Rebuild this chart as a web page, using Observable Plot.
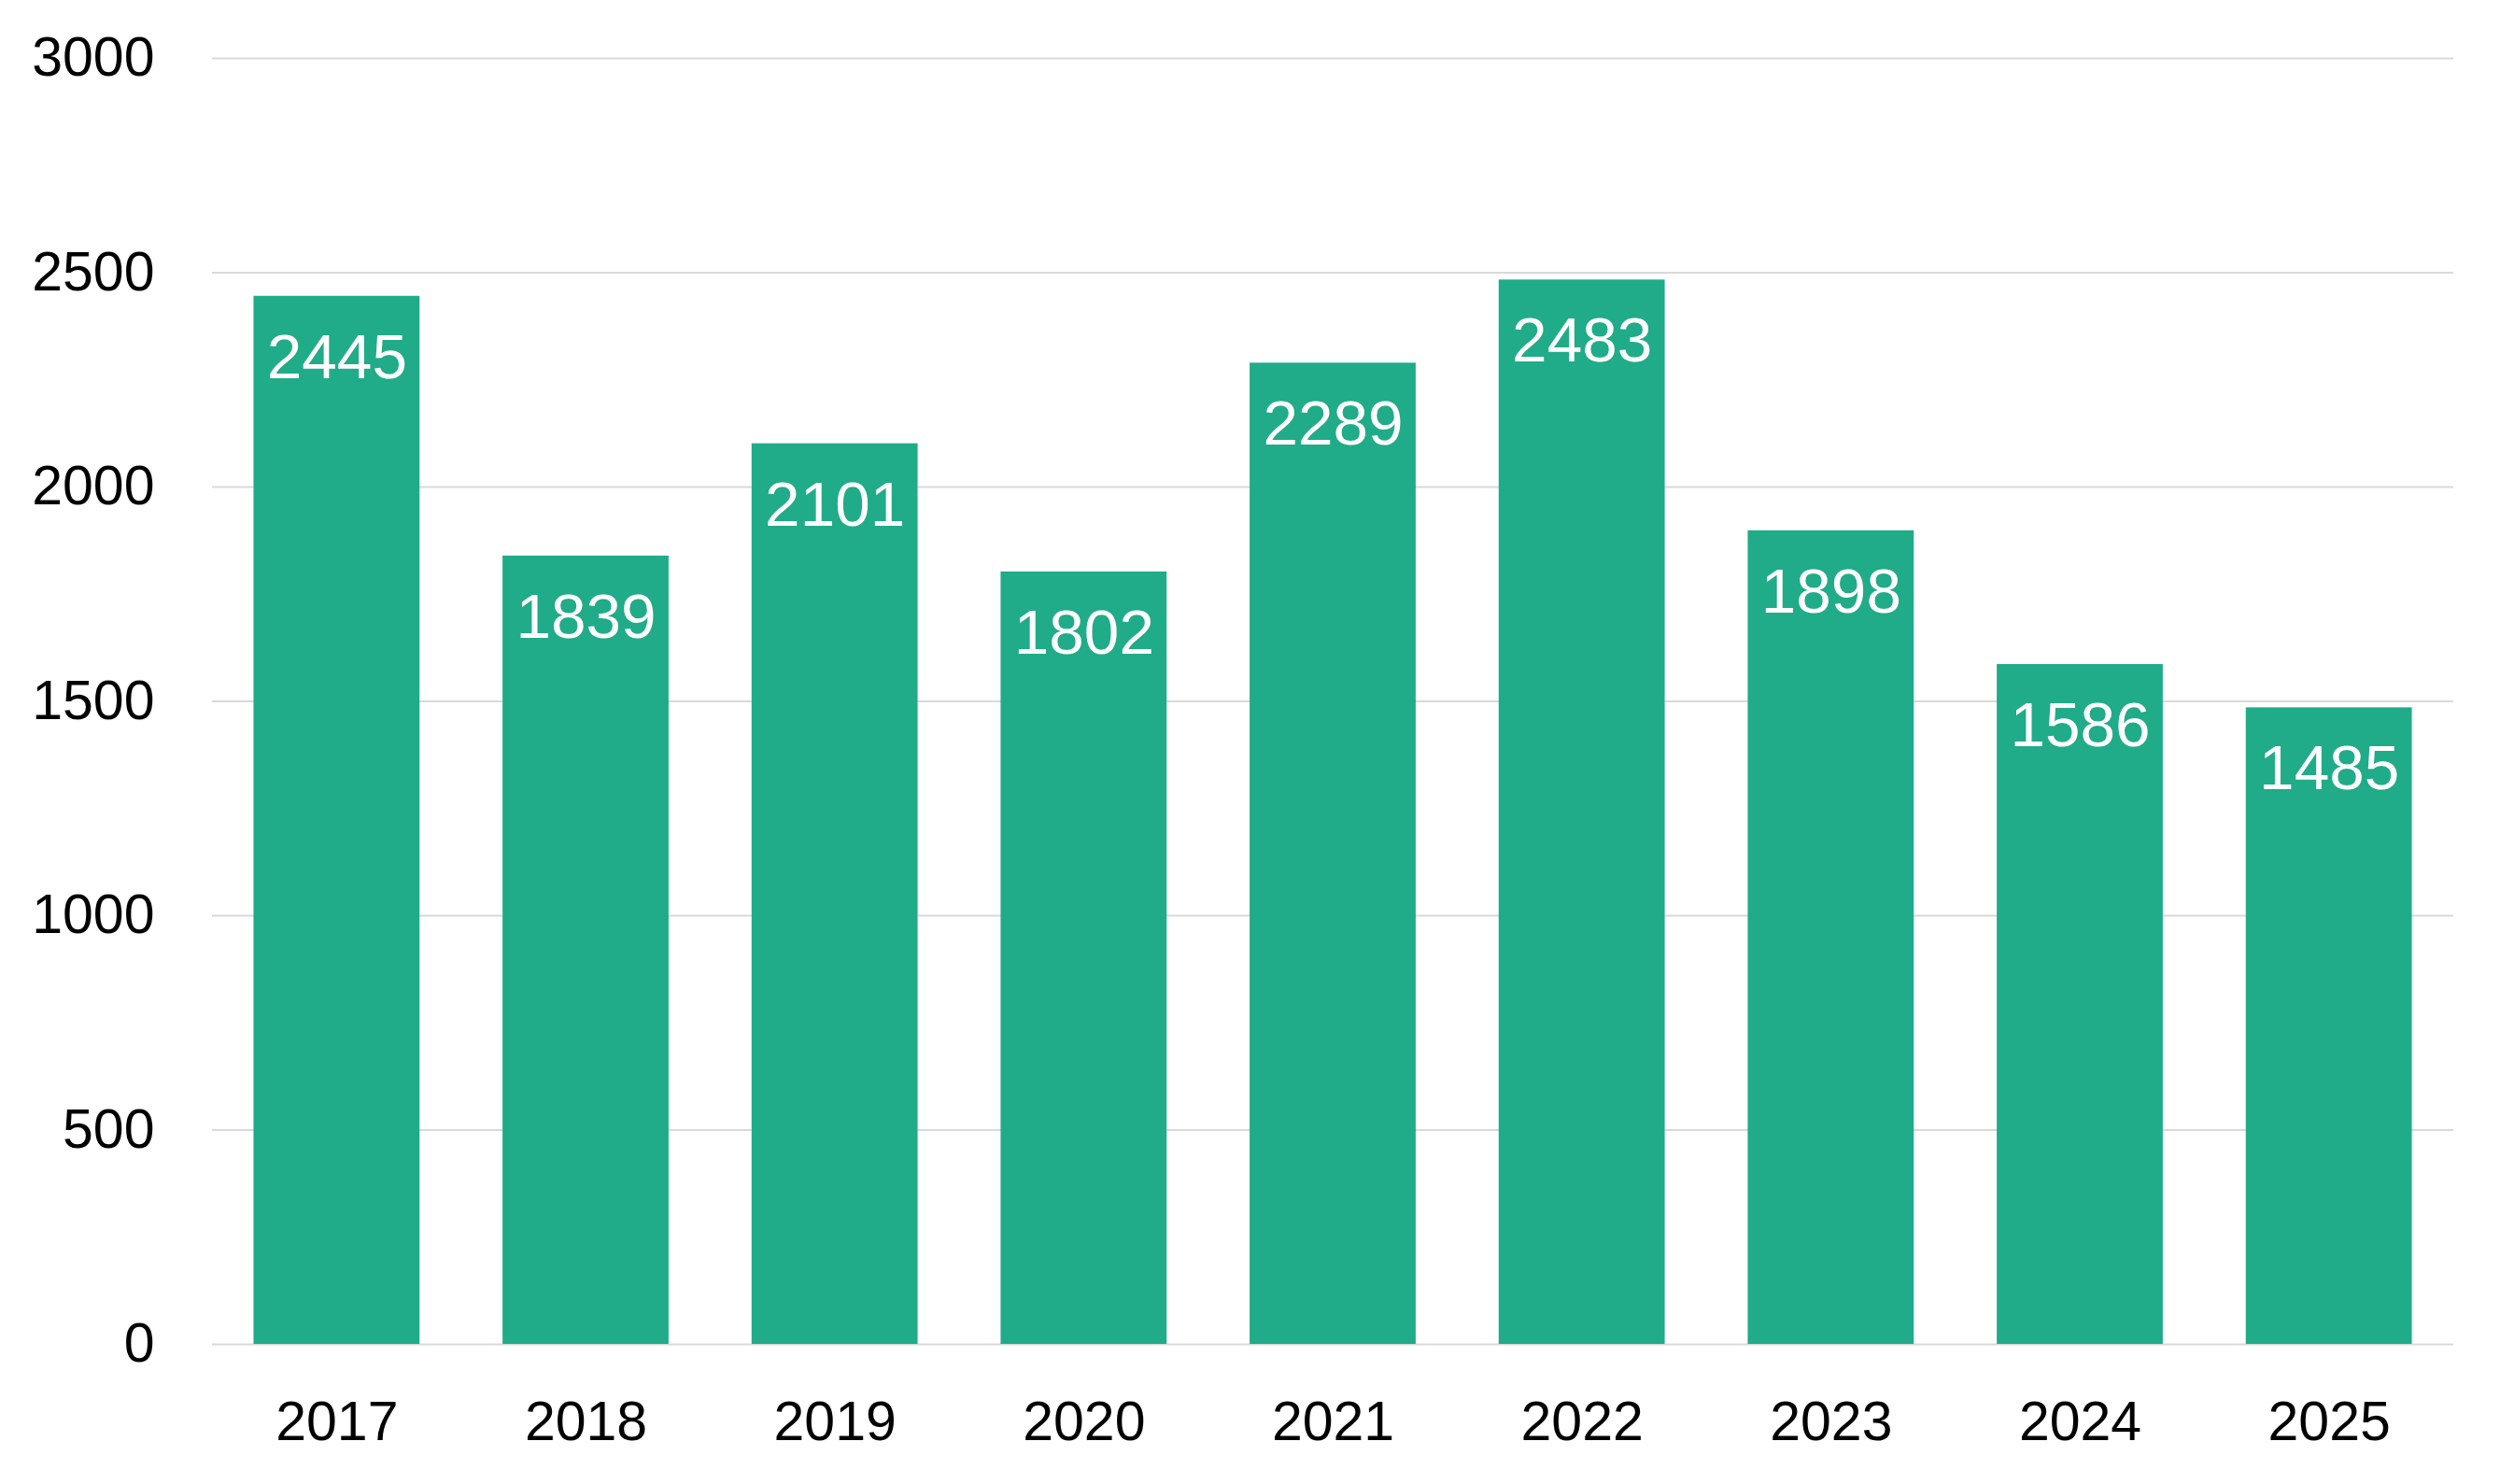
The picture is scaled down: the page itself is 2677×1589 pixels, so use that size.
<!DOCTYPE html>
<html>
<head>
<meta charset="utf-8">
<script src="https://cdn.jsdelivr.net/npm/d3@7"></script>
<script src="https://cdn.jsdelivr.net/npm/@observablehq/plot@0.6"></script>
<style>
  html, body { margin: 0; padding: 0; background: #fff; }
  #chart svg { display: block; }
</style>
</head>
<body>
<div id="chart"></div>
<script>
const years = ["2017", "2018", "2019", "2020", "2021", "2022", "2023", "2024", "2025"];
const values = [2445, 1839, 2101, 1802, 2289, 2483, 1898, 1586, 1485];
const yTicks = [0, 500, 1000, 1500, 2000, 2500, 3000];

const data = years.map((year, i) => ({ year, value: values[i] }));

const chart = Plot.plot({
  width: 2677,
  height: 1589,
  marginTop: 62,
  marginBottom: 150,
  marginLeft: 227,
  marginRight: 50,
  style: { fontFamily: "'Liberation Sans', Arial, sans-serif", background: "#fff", color: "#000" },
  x: { domain: years, paddingInner: 1/3, paddingOuter: 1/6, round: false, label: null },
  y: { domain: [0, 3000], label: null },
  marks: [
    Plot.gridY(yTicks, { stroke: "#d9d9d9", strokeOpacity: 1, strokeWidth: 2 }),
    Plot.barY(data, { x: "year", y: "value", fill: "#20ab89" }),
    Plot.text(data, { x: "year", y: "value", text: d => String(d.value), dy: 66, fill: "#fff", fontSize: 67.5 }),
    Plot.axisX({ tickSize: 0, tickPadding: 61, fontSize: 59, fill: "#000", label: null }),
    Plot.axisY(yTicks, { tickSize: 0, tickPadding: 62, fontSize: 59, fill: "#000", label: null, tickFormat: d => String(d) })
  ]
});
document.getElementById("chart").appendChild(chart);
</script>
</body>
</html>
